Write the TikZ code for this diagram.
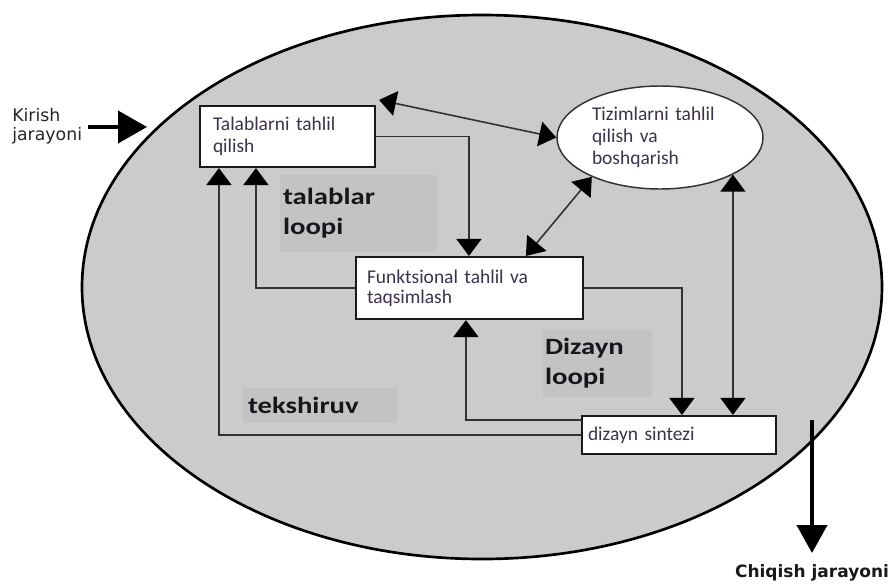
\documentclass[tikz,border=0pt]{standalone}
\usepackage{fontspec}
\setmainfont{Carlito}
\newfontfamily\lblfont{Carlito}[FakeStretch=1.23]
\newfontfamily\vfont{DejaVu Sans}
\usetikzlibrary{arrows.meta,shapes.geometric,calc}
\definecolor{bg}{RGB}{203,203,203}
\definecolor{lblbg}{RGB}{195,195,195}
\definecolor{txt}{RGB}{60,50,75}
\definecolor{lbltxt}{RGB}{22,22,28}
\definecolor{ln}{RGB}{50,50,50}
\begin{document}
\begin{tikzpicture}[x=0.75pt,y=-0.75pt,
  box/.style={draw=black!90, line width=1.6pt, fill=white, align=left,
    font=\fontsize{14.6}{16.5}\selectfont, text=txt, inner ysep=0pt},
  lblbox/.style={fill=lblbg, align=left, inner ysep=0pt,
    font=\lblfont\bfseries\fontsize{17.5}{22.5}\selectfont, text=lbltxt},
  conn/.style={draw=ln, line width=1.4pt, -{Triangle[length=12.75pt,width=18.75pt,color=black]}},
  dconn/.style={draw=ln, line width=1.2pt, {Triangle[length=12.75pt,width=18.75pt,color=black]}-{Triangle[length=12.75pt,width=18.75pt,color=black]}},
  bigarr/.style={draw=black, line width=3pt, -{Triangle[length=21.75pt,width=24pt]}},
  bigarrb/.style={draw=black, line width=3pt, -{Triangle[length=21pt,width=22.5pt]}}
]
\useasboundingbox (0,0) rectangle (893,583);

% system ellipse
\node[ellipse, draw=black, line width=2pt, fill=bg, minimum width=600pt,
  minimum height=408pt, inner sep=0pt] (sys) at (482,287) {};

% loop labels
\node[lblbox, minimum width=117.75pt, minimum height=57.75pt, text width=113.25pt,
  inner xsep=2.25pt] (l1) at (358.5,213.5) {talablar\\loopi};
\node[lblbox, minimum width=81.75pt, minimum height=50.25pt, text width=78.75pt,
  inner xsep=1.5pt] (l2) at (597.5,363.5) {Dizayn\\loopi};
\node[lblbox, minimum width=117pt, minimum height=26.25pt, text width=108pt,
  inner xsep=4.5pt] (l3) at (320,405.5) {tekshiruv};

% boxes
\node[box, minimum width=131.25pt, minimum height=45.75pt, text width=111.75pt,
  inner xsep=9.75pt] (b1) at (287.5,136.5) {Talablarni tahlil\\qilish};
\node[box, minimum width=170.25pt, minimum height=46.5pt, text width=153.75pt,
  inner xsep=8.25pt, font=\fontsize{14.6}{15}\selectfont] (b2) at (469.5,288)
  {Funktsional tahlil va\\taqsimlash};
\node[box, minimum width=145.5pt, minimum height=28.5pt, text width=136.5pt,
  inner xsep=4.5pt] (b3) at (679,435) {dizayn sintezi};
\node[ellipse, draw=ln, line width=1.1pt, fill=white, minimum width=154.5pt,
  minimum height=77.25pt, inner sep=0pt, text width=102pt, align=left,
  font=\fontsize{14.6}{16.5}\selectfont, text=txt] (e2) at (660,137.5)
  {Tizimlarni tahlil\\qilish va\\boshqarish};

% connectors
\coordinate (c1) at ($(b1.north east)+(3,-5)$);
\draw[dconn] (c1) -- (e2.west);
\draw[conn] (b1.east) -| ($(b2.north west)+(114,0)$);
\draw[dconn] ($(b2.north west)+(171,0)$) -- (e2.210.5);
\draw[conn] (b2.west) -| ($(b1.south west)+(57,0)$);
\draw[conn] (b3.west) -| ($(b1.south west)+(20,0)$);
\draw[conn] (b2.east) -| ($(b3.north west)+(101,0)$);
\draw[dconn] (e2.333.4) -- (e2.333.4 |- b3.north);
\draw[conn] ($(b3.west)+(0,-15)$) -| ($(b2.south west)+(111,0)$);

% input / output
\node[font=\vfont\fontsize{13}{14}\selectfont, align=left, anchor=west,
  inner sep=0pt, text=black!85] (kin) at (12,126) {Kirish\\jarayoni};
\coordinate (inE) at (147,127);
\draw[bigarr] ($(kin.east |- inE)+(6,0)$) -- (inE);

\coordinate (outS) at (812,420);
\coordinate (outE) at (812,553);
\draw[bigarrb] (outS) -- (outE);
\node[font=\vfont\bfseries\fontsize{12.75}{14}\selectfont, anchor=base,
  inner sep=0pt, text=black!90] (kout) at (812,577) {Chiqish jarayoni};
\end{tikzpicture}
\end{document}
